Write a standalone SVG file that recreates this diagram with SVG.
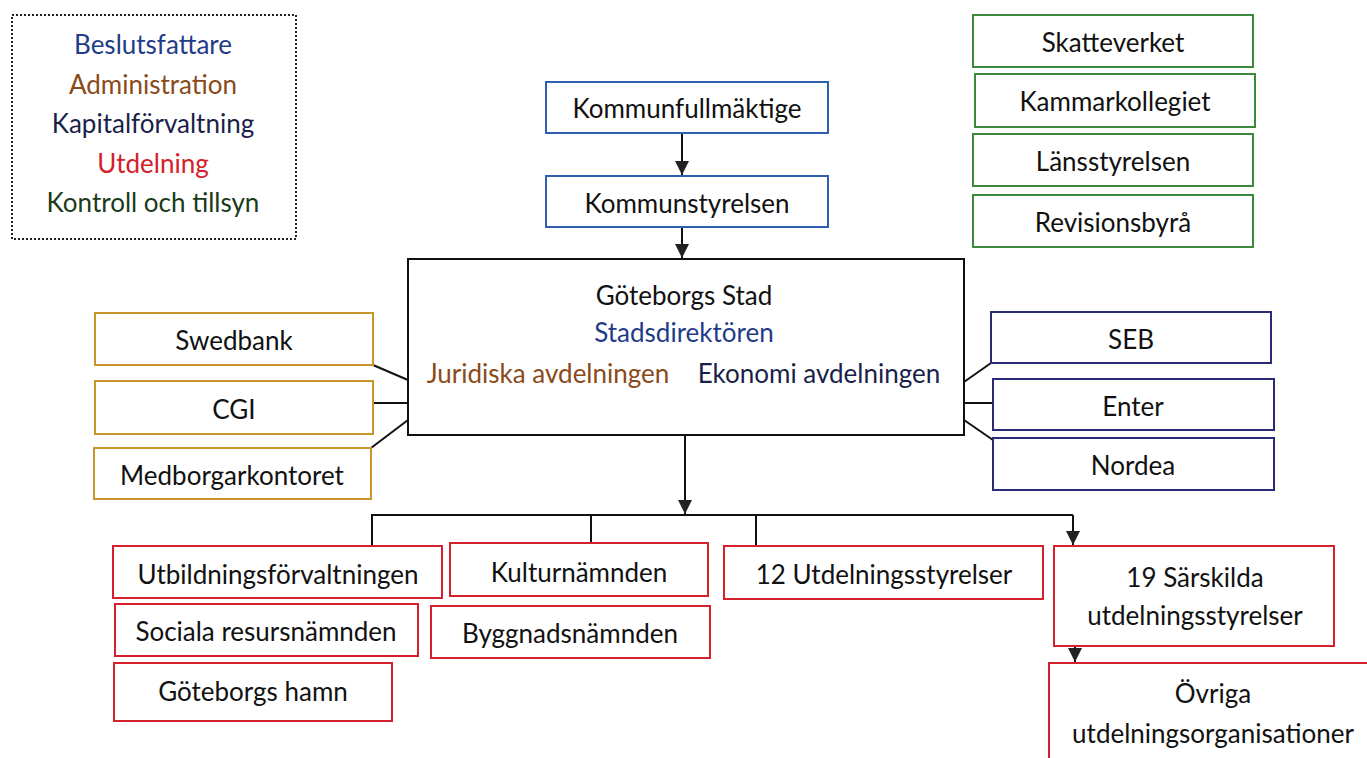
<svg xmlns="http://www.w3.org/2000/svg" width="1367" height="758" viewBox="0 0 1367 758">
<defs>
<style>
text{font-family:Lato,"Open Sans","Liberation Sans",sans-serif;font-size:26px;text-anchor:middle;dominant-baseline:central;fill:#111}
.box{fill:#fff;stroke-width:2}
.blue{stroke:#2f5fae}
.gold{stroke:#c8962a}
.navy{stroke:#2a2a78}
.green{stroke:#3c8a3c}
.red{stroke:#d3202a}
.blk{stroke:#111}
.conn{stroke:#111;stroke-width:2;fill:none}
</style>
<marker id="arr" viewBox="0 0 10 10" refX="10" refY="5" markerWidth="7" markerHeight="7" markerUnits="strokeWidth" orient="auto">
<path d="M0,0 L10,5 L0,10 z" fill="#222"/>
</marker>
</defs>
<rect width="1367" height="758" fill="#fff"/>

<g id="legend">
<rect x="12" y="15" width="284" height="224" fill="#fff" stroke="#222" stroke-width="2" stroke-dasharray="2 2"/>
<text x="153" y="44" style="fill:#1f3c88">Beslutsfattare</text>
<text x="153" y="84" style="fill:#8a4a1a">Administration</text>
<text x="153" y="123" style="fill:#1a1f4a">Kapitalförvaltning</text>
<text x="153" y="163" style="fill:#d3202a">Utdelning</text>
<text x="153" y="202" style="fill:#1a3a1a">Kontroll och tillsyn</text>
</g>

<g id="connectors">
<line class="conn" x1="682" y1="133" x2="682" y2="175" marker-end="url(#arr)"/>
<line class="conn" x1="682" y1="227" x2="682" y2="258" marker-end="url(#arr)"/>
<line class="conn" x1="373" y1="365" x2="408" y2="380"/>
<line class="conn" x1="373" y1="403" x2="408" y2="403"/>
<line class="conn" x1="371" y1="448" x2="408" y2="420"/>
<line class="conn" x1="964" y1="382" x2="991" y2="363"/>
<line class="conn" x1="964" y1="403" x2="993" y2="403"/>
<line class="conn" x1="964" y1="420" x2="993" y2="440"/>
<line class="conn" x1="685" y1="435" x2="685" y2="514" marker-end="url(#arr)"/>
<polyline class="conn" points="372,545 372,515 1073,515"/>
<line class="conn" x1="591" y1="515" x2="591" y2="543"/>
<line class="conn" x1="756" y1="515" x2="756" y2="546"/>
<line class="conn" x1="1073" y1="515" x2="1073" y2="545" marker-end="url(#arr)"/>
<line class="conn" x1="1075" y1="646" x2="1075" y2="662" marker-end="url(#arr)"/>
</g>

<g id="kommunfullmaktige"><rect class="box blue" x="546" y="82" width="282" height="51"/><text x="687" y="108">Kommunfullmäktige</text></g>
<g id="kommunstyrelsen"><rect class="box blue" x="546" y="176" width="282" height="51"/><text x="687" y="203">Kommunstyrelsen</text></g>

<g id="goteborgs-stad">
<rect class="box blk" x="408" y="259" width="556" height="176"/>
<text x="684" y="295">Göteborgs Stad</text>
<text x="684" y="332" style="fill:#1f3c88">Stadsdirektören</text>
<text x="548" y="373" style="fill:#8a4a1a">Juridiska avdelningen</text>
<text x="819" y="373" style="fill:#1a1f4a">Ekonomi avdelningen</text>
</g>

<g id="swedbank"><rect class="box gold" x="95" y="313" width="278" height="52"/><text x="234" y="340">Swedbank</text></g>
<g id="cgi"><rect class="box gold" x="95" y="381" width="278" height="53"/><text x="234" y="409">CGI</text></g>
<g id="medborgarkontoret"><rect class="box gold" x="94" y="448" width="277" height="51"/><text x="232" y="475">Medborgarkontoret</text></g>

<g id="seb"><rect class="box navy" x="991" y="312" width="280" height="51"/><text x="1131" y="339">SEB</text></g>
<g id="enter"><rect class="box navy" x="993" y="379" width="281" height="51"/><text x="1133" y="406">Enter</text></g>
<g id="nordea"><rect class="box navy" x="993" y="438" width="281" height="52"/><text x="1133" y="465">Nordea</text></g>

<g id="skatteverket"><rect class="box green" x="973" y="15" width="280" height="52"/><text x="1113" y="42">Skatteverket</text></g>
<g id="kammarkollegiet"><rect class="box green" x="975" y="74" width="280" height="53"/><text x="1115" y="101">Kammarkollegiet</text></g>
<g id="lansstyrelsen"><rect class="box green" x="973" y="134" width="280" height="52"/><text x="1113" y="161">Länsstyrelsen</text></g>
<g id="revisionsbyra"><rect class="box green" x="973" y="195" width="280" height="52"/><text x="1113" y="222">Revisionsbyrå</text></g>

<g id="utbildningsforvaltningen"><rect class="box red" x="113" y="546" width="329" height="52"/><text x="278" y="574">Utbildningsförvaltningen</text></g>
<g id="kulturnamnden"><rect class="box red" x="450" y="543" width="258" height="53"/><text x="579" y="572">Kulturnämnden</text></g>
<g id="sociala-resursnamnden"><rect class="box red" x="115" y="604" width="303" height="52"/><text x="266" y="631">Sociala resursnämnden</text></g>
<g id="byggnadsnamnden"><rect class="box red" x="431" y="606" width="279" height="52"/><text x="570" y="633">Byggnadsnämnden</text></g>
<g id="goteborgs-hamn"><rect class="box red" x="114" y="663" width="278" height="58"/><text x="253" y="691">Göteborgs hamn</text></g>
<g id="utdelningsstyrelser-12"><rect class="box red" x="724" y="546" width="319" height="53"/><text x="884" y="574">12 Utdelningsstyrelser</text></g>
<g id="sarskilda-19"><rect class="box red" x="1054" y="546" width="280" height="100"/><text x="1195" y="577">19 Särskilda</text><text x="1195" y="615">utdelningsstyrelser</text></g>
<g id="ovriga"><rect class="box red" x="1049" y="663" width="330" height="110"/><text x="1213" y="693">Övriga</text><text x="1213" y="733">utdelningsorganisationer</text></g>
</svg>
